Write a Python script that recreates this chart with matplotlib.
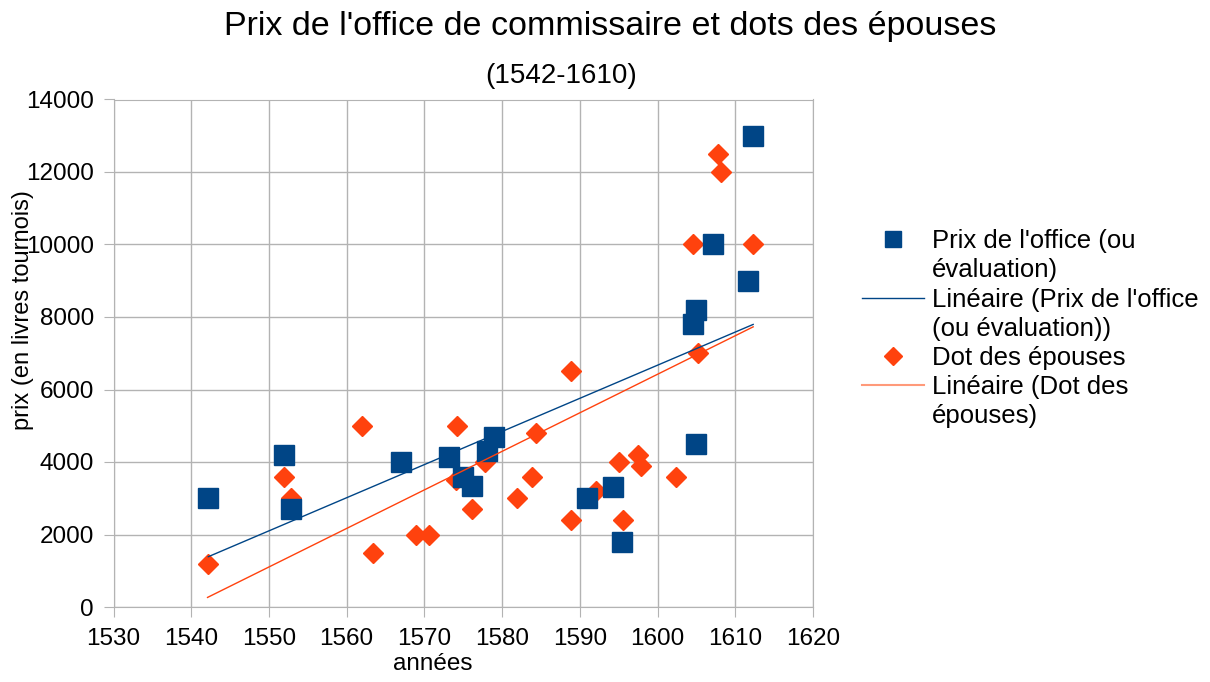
import numpy as np
import matplotlib.pyplot as plt
from matplotlib.lines import Line2D

plt.rcParams['font.family'] = ['Liberation Sans', 'DejaVu Sans']

# Prix de l'office (ou évaluation)
office_years = [1542.2, 1551.9, 1552.8, 1567.0, 1573.2, 1575.0, 1576.1, 1578.1, 1578.9,
                1590.9, 1594.3, 1595.4, 1605.0, 1612.3, 1607.1, 1611.6, 1604.9, 1604.6]
office_price = [3000, 4200, 2700, 4000, 4150, 3600, 3350, 4300, 4700,
                3000, 3300, 1800, 4500, 13000, 10000, 9000, 8200, 7800]

# Dot des épouses
dot_years = [1542.1, 1551.9, 1552.8, 1562.0, 1563.4, 1568.9, 1570.6, 1574.2, 1574.1,
             1576.1, 1577.8, 1584.4, 1583.9, 1581.9, 1588.9, 1588.9, 1592.1, 1595.1,
             1595.5, 1597.5, 1597.9, 1602.4, 1605.2, 1607.8, 1608.1, 1604.5, 1612.3]
dot_value = [1200, 3600, 3000, 5000, 1500, 2000, 2000, 5000, 3500,
             2700, 4000, 4800, 3600, 3000, 6500, 2400, 3200, 4000,
             2400, 4200, 3900, 3600, 7000, 12500, 12000, 10000, 10000]

BLUE = '#004586'
ORANGE = '#ff420e'
GRID = '#b3b3b3'

fig = plt.figure(figsize=(12.1, 6.82), dpi=100)
ax = fig.add_axes([113.5/1210, 75/682, 699.5/1210, 507.5/682])

ax.plot(dot_years, dot_value, 'D', color=ORANGE, markersize=10, zorder=3)
ax.plot(office_years, office_price, 's', color=BLUE, markersize=14, zorder=4)

# linear trend lines
for xs, ys, c in [(office_years, office_price, BLUE), (dot_years, dot_value, ORANGE)]:
    xs = np.array(xs)
    p = np.polyfit(xs, ys, 1)
    xx = np.array([xs.min(), xs.max()])
    ax.plot(xx, np.polyval(p, xx), '-', color=c, linewidth=1.0, zorder=5)

ax.set_xlim(1530, 1620)
ax.set_ylim(0, 14000)
ax.set_xticks(np.arange(1530, 1621, 10))
ax.set_yticks(np.arange(0, 14001, 2000))
ax.grid(True, color=GRID, linewidth=1.0)
ax.set_axisbelow(True)
for s in ax.spines.values():
    s.set_color(GRID)
ax.tick_params(direction='out', length=7, color=GRID, labelsize=17.5)
ax.tick_params(axis='x', pad=8)
ax.tick_params(axis='y', pad=7)

ax.set_xlabel('années', fontsize=17.5)
ax.xaxis.set_label_coords((433 - 113.5) / 699.5, -0.091)
ax.set_ylabel('prix (en livres tournois)', fontsize=17)
ax.yaxis.set_label_coords(-0.114, (607 - 310) / 507.5)

fig.text(0.504, 1 - 26/682, "Prix de l'office de commissaire et dots des épouses",
         ha='center', va='center', fontsize=24.5)
fig.text(561/1210, 1 - 76/682, '(1542-1610)', ha='center', va='center', fontsize=20)

blank = Line2D([], [], linestyle='none')
handles = [Line2D([], [], marker='s', linestyle='none', color=BLUE, markersize=12),
           blank,
           Line2D([], [], color=BLUE, linewidth=1.0),
           blank,
           Line2D([], [], marker='D', linestyle='none', color=ORANGE, markersize=9),
           Line2D([], [], color='#ff9a7a', linewidth=1.5),
           blank]
labels = ["Prix de l'office (ou", "évaluation)", "Linéaire (Prix de l'office",
          "(ou évaluation))", "Dot des épouses", "Linéaire (Dot des", "épouses)"]
fig.legend(handles, labels, loc='upper left', bbox_to_anchor=(852/1210, 1 - 219/682),
           frameon=False, fontsize=18.5, handlelength=2.4, handletextpad=0.3,
           labelspacing=0.2, borderaxespad=0)

fig.savefig('out.png', dpi=100)
